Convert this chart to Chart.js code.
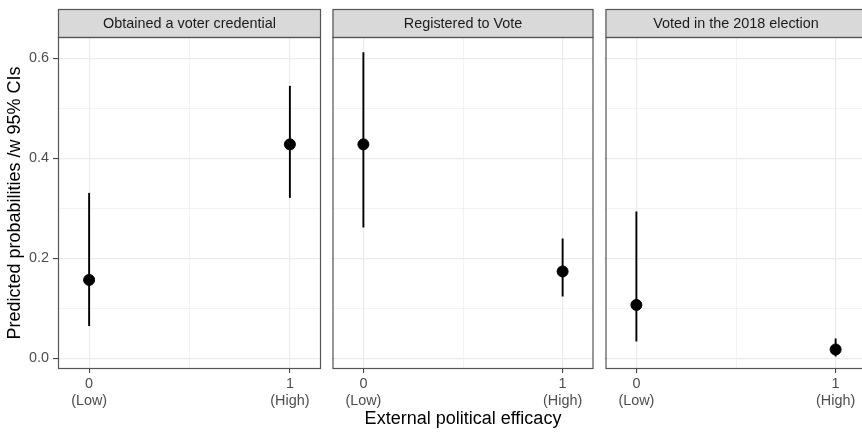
<!DOCTYPE html>
<html>
<head>
<meta charset="utf-8">
<script src="https://cdn.jsdelivr.net/npm/chart.js@4"></script>
<style>
    body { margin: 0; width: 862px; height: 432px; overflow: hidden; background: #fff; position: relative; }
    canvas { position: absolute; top: 0; }
</style>
</head>
<body>
<canvas id="panel-1" width="330" height="432" style="left:0px"></canvas>
<canvas id="panel-2" width="274" height="432" style="left:326px"></canvas>
<canvas id="panel-3" width="274" height="432" style="left:599px"></canvas>
<script>
// Data (predicted probabilities with 95% CIs)
const panelTitles = ['Obtained a voter credential', 'Registered to Vote', 'Voted in the 2018 election'];
const efficacyLevels = [0, 1];
const efficacyLabels = [['0', '(Low)'], ['1', '(High)']];

const credentialEst = [0.157, 0.428];
const credentialLow = [0.065, 0.321];
const credentialHigh = [0.331, 0.545];

const registeredEst = [0.428, 0.174];
const registeredLow = [0.262, 0.124];
const registeredHigh = [0.612, 0.240];

const votedEst = [0.107, 0.018];
const votedLow = [0.034, 0.004];
const votedHigh = [0.294, 0.040];

const yMajorTicks = [0, 0.2, 0.4, 0.6];
const yAllTicks = [0, 0.1, 0.2, 0.3, 0.4, 0.5, 0.6];
const xAllTicks = [0, 0.5, 1];

const panels = [
    { est: credentialEst, low: credentialLow, high: credentialHigh },
    { est: registeredEst, low: registeredLow, high: registeredHigh },
    { est: votedEst, low: votedLow, high: votedHigh }
];

const FONT = '"Liberation Sans", Arial, Helvetica, sans-serif';
const GRID = '#ebebeb';
const DARK = '#333333';
const BORDER = '#555555';

// panel border + grey strip on top
const stripPlugin = {
    id: 'strip',
    afterDraw: function(chart, args, opts) {
        const ctx = chart.ctx;
        const a = chart.chartArea;
        const stripTop = 9;
        ctx.save();
        ctx.fillStyle = '#d9d9d9';
        ctx.fillRect(a.left, stripTop, a.right - a.left, a.top - stripTop);
        ctx.strokeStyle = BORDER;
        ctx.lineWidth = 1.2;
        ctx.strokeRect(a.left + 0.5, stripTop + 0.5, a.right - a.left - 1, a.top - stripTop);
        ctx.strokeRect(a.left + 0.5, a.top + 0.5, a.right - a.left - 1, a.bottom - a.top - 1);
        ctx.fillStyle = '#1a1a1a';
        ctx.font = '14.4px ' + FONT;
        ctx.textAlign = 'center';
        ctx.textBaseline = 'middle';
        ctx.fillText(opts.text, (a.left + a.right) / 2, (stripTop + a.top) / 2 + 1);
        ctx.restore();
    }
};

function buildPanel(canvasId, idx) {
    const p = panels[idx];
    const first = idx === 0;
    const middle = idx === 1;

    const datasets = [{
        type: 'scatter',
        data: efficacyLevels.map((x, i) => ({ x: x, y: p.est[i] })),
        backgroundColor: '#000',
        borderColor: '#000',
        pointRadius: 5.5,
        pointHoverRadius: 5.5,
        order: 0
    }];
    efficacyLevels.forEach((x, i) => {
        datasets.push({
            type: 'line',
            data: [{ x: x, y: p.low[i] }, { x: x, y: p.high[i] }],
            borderColor: '#000',
            borderWidth: 1.9,
            pointRadius: 0,
            order: 1
        });
    });

    return new Chart(document.getElementById(canvasId), {
        type: 'scatter',
        data: { datasets: datasets },
        options: {
            responsive: false,
            animation: false,
            devicePixelRatio: 1,
            layout: {
                padding: first ? { top: 37, left: 0, right: 9, bottom: 0 } : { top: 37, left: 5, right: 6, bottom: 0 }
            },
            plugins: {
                legend: { display: false },
                tooltip: { enabled: false },
                strip: { text: panelTitles[idx] }
            },
            scales: {
                x: {
                    type: 'linear',
                    min: -0.155,
                    max: 1.155,
                    afterBuildTicks: function(scale) {
                        scale.ticks = xAllTicks.map(v => ({ value: v }));
                    },
                    afterFit: function(scale) { scale.height = 63; },
                    border: { display: false },
                    grid: {
                        color: GRID,
                        lineWidth: ctx => (ctx.tick && ctx.tick.value === 0.5) ? 0.6 : 1.2,
                        tickLength: 4,
                        tickColor: ctx => (ctx.tick && ctx.tick.value === 0.5) ? 'rgba(0,0,0,0)' : DARK,
                        tickWidth: 1
                    },
                    ticks: {
                        autoSkip: false,
                        maxRotation: 0,
                        padding: 2,
                        color: '#4d4d4d',
                        font: { family: FONT, size: 14.4, lineHeight: 1.2 },
                        callback: function(value) {
                            const i = efficacyLevels.indexOf(value);
                            return i >= 0 ? efficacyLabels[i] : '';
                        }
                    },
                    title: {
                        display: middle,
                        text: 'External political efficacy',
                        color: '#000',
                        font: { family: FONT, size: 18, lineHeight: 1.2 },
                        padding: { top: 2, bottom: 2 }
                    }
                },
                y: {
                    type: 'linear',
                    min: -0.021,
                    max: 0.6426,
                    afterBuildTicks: function(scale) {
                        scale.ticks = yAllTicks.map(v => ({ value: v }));
                    },
                    afterFit: function(scale) { scale.width = first ? 58 : 0; },
                    border: { display: false },
                    grid: {
                        color: GRID,
                        lineWidth: ctx => (ctx.tick && yMajorTicks.indexOf(ctx.tick.value) < 0) ? 0.6 : 1.2,
                        tickLength: first ? 5 : 0,
                        tickColor: ctx => (ctx.tick && yMajorTicks.indexOf(ctx.tick.value) < 0) ? 'rgba(0,0,0,0)' : DARK,
                        tickWidth: 1
                    },
                    ticks: {
                        display: first,
                        autoSkip: false,
                        padding: 4,
                        color: '#4d4d4d',
                        font: { family: FONT, size: 14.4 },
                        callback: function(value) {
                            return yMajorTicks.indexOf(value) >= 0 ? value.toFixed(1) : '';
                        }
                    },
                    title: {
                        display: first,
                        text: 'Predicted probabilities /w 95% CIs',
                        color: '#000',
                        font: { family: FONT, size: 18, lineHeight: 1.2 },
                        padding: { top: 4, bottom: 0 }
                    }
                }
            }
        },
        plugins: [stripPlugin]
    });
}

buildPanel('panel-1', 0);
buildPanel('panel-2', 1);
buildPanel('panel-3', 2);
</script>
</body>
</html>
